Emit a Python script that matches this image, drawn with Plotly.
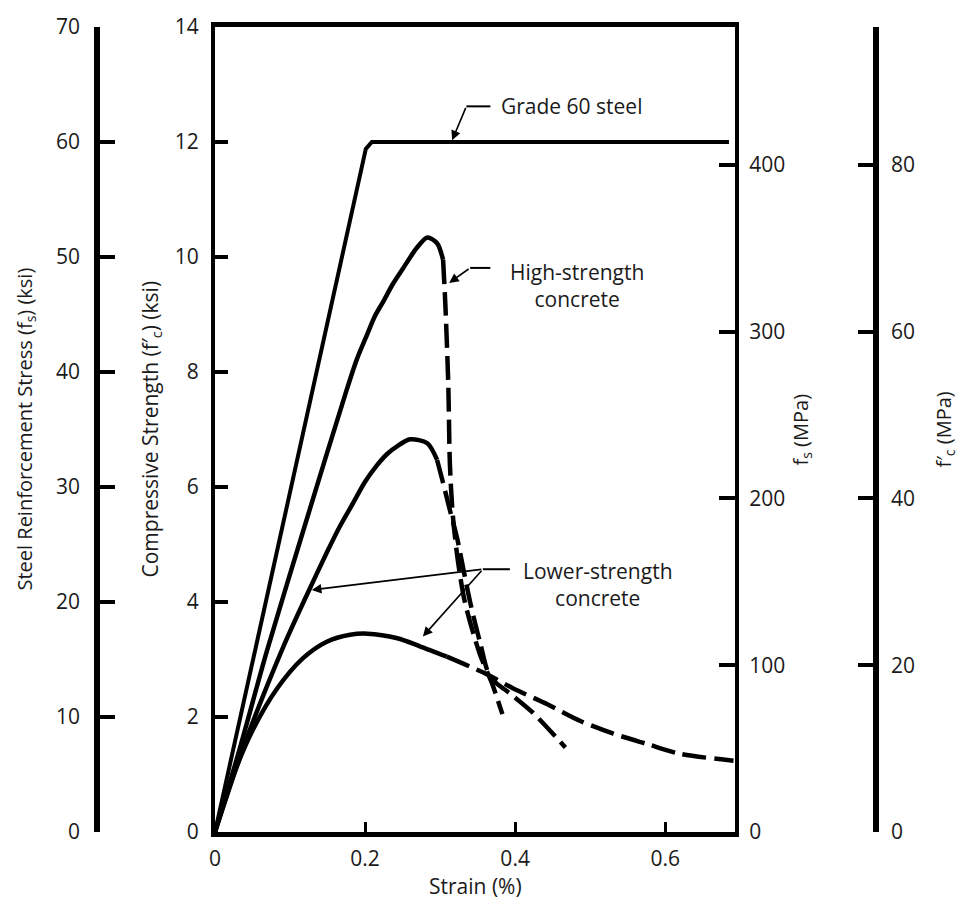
import plotly.graph_objects as go

# ---------------- data ----------------
# Grade 60 steel (strain %, stress ksi on steel axis)
steel_x = [0.0, 0.196, 0.201, 0.209, 0.685]
steel_y = [0.0, 57.9, 59.4, 60.0, 60.0]

# High-strength concrete (strain %, ksi)
hsc_solid_x = [0.0, 0.033, 0.069, 0.123, 0.176, 0.189, 0.203, 0.213, 0.224, 0.237, 0.251, 0.269, 0.283, 0.296, 0.304]
hsc_solid_y = [0.0, 1.45, 3.14, 5.47, 7.71, 8.22, 8.66, 8.97, 9.22, 9.53, 9.81, 10.16, 10.34, 10.24, 9.95]
hsc_dash_x = [0.304, 0.307, 0.311, 0.313, 0.317, 0.324, 0.333, 0.353, 0.369, 0.383]
hsc_dash_y = [9.95, 9.17, 7.74, 6.41, 5.50, 4.69, 4.00, 3.09, 2.59, 2.05]

# Medium (lower) strength concrete
msc_solid_x = [0.0, 0.040, 0.091, 0.123, 0.149, 0.167, 0.184, 0.200, 0.216, 0.229, 0.243, 0.260, 0.283, 0.296]
msc_solid_y = [0.0, 1.55, 3.22, 4.14, 4.86, 5.33, 5.72, 6.09, 6.38, 6.57, 6.71, 6.83, 6.76, 6.47]
msc_dash_x = [0.296, 0.304, 0.313, 0.323, 0.331, 0.340, 0.353, 0.367, 0.393, 0.424, 0.467]
msc_dash_y = [6.47, 6.07, 5.60, 5.09, 4.57, 4.00, 3.31, 2.69, 2.41, 2.07, 1.47]

# Lower-strength concrete
lsc_solid_x = [0.0, 0.027, 0.051, 0.083, 0.117, 0.149, 0.180, 0.203, 0.243, 0.273, 0.309]
lsc_solid_y = [0.0, 1.07, 1.79, 2.50, 3.02, 3.31, 3.43, 3.45, 3.37, 3.23, 3.05]
lsc_dash_x = [0.309, 0.363, 0.397, 0.443, 0.487, 0.531, 0.576, 0.620, 0.691]
lsc_dash_y = [3.05, 2.74, 2.50, 2.22, 1.93, 1.71, 1.53, 1.36, 1.24]

# axes / ticks
x_ticks = [0, 0.2, 0.4, 0.6]
x_ticklabels = ["0", "0.2", "0.4", "0.6"]
fc_ksi_ticks = [0, 2, 4, 6, 8, 10, 12, 14]
fs_ksi_ticks = [0, 10, 20, 30, 40, 50, 60, 70]
fs_mpa_ticks = [0, 100, 200, 300, 400]
fc_mpa_ticks = [0, 20, 40, 60, 80]
KSI_TO_MPA = 6.895
FC_MAX_KSI = 14
FS_MAX_KSI = 70

FONT = "Open Sans"
TXT = "#1a1a1a"

fig = go.Figure()

solid = dict(color="black", width=4.5)
dashed = dict(color="black", width=4.5, dash="24px,8px")

fig.add_trace(go.Scatter(x=steel_x, y=steel_y, yaxis="y2", mode="lines",
                         line=dict(color="black", width=4), showlegend=False, hoverinfo="skip"))
for xs, ys, ln in [
    (hsc_solid_x, hsc_solid_y, solid), (hsc_dash_x, hsc_dash_y, dashed),
    (msc_solid_x, msc_solid_y, solid), (msc_dash_x, msc_dash_y, dashed),
    (lsc_solid_x, lsc_solid_y, solid), (lsc_dash_x, lsc_dash_y, dashed),
]:
    fig.add_trace(go.Scatter(x=xs, y=ys, mode="lines", line=dict(shape="spline", smoothing=0.8, **ln),
                             showlegend=False, hoverinfo="skip"))

# invisible traces so the MPa axes are drawn
fig.add_trace(go.Scatter(x=[0], y=[0], yaxis="y3", mode="markers", marker=dict(opacity=0),
                         showlegend=False, hoverinfo="skip"))
fig.add_trace(go.Scatter(x=[0], y=[0], yaxis="y4", mode="markers", marker=dict(opacity=0),
                         showlegend=False, hoverinfo="skip"))

W, H = 964, 902
ML, MR, MT, MB = 97, 88, 20, 70
PW = W - ML - MR
def px2paper(px):
    return (px - ML) / PW

tickfont = dict(family=FONT, size=21, color=TXT)

fig.update_layout(
    width=W, height=H, margin=dict(l=ML, r=MR, t=MT, b=MB),
    paper_bgcolor="white", plot_bgcolor="white",
    xaxis=dict(domain=[px2paper(215), px2paper(735)], range=[0, 0.693],
               tickvals=x_ticks, ticktext=x_ticklabels, ticks="inside", ticklen=10, tickwidth=2.5,
               tickcolor="black", showline=True, linewidth=5, linecolor="black", mirror=True,
               showgrid=False, zeroline=False, tickfont=tickfont, ticklabelstandoff=4,
               fixedrange=True),
    yaxis=dict(range=[0, FC_MAX_KSI], tickvals=fc_ksi_ticks, ticks="inside", ticklen=13, tickwidth=4,
               tickcolor="black", showline=True, linewidth=4, linecolor="black", showgrid=False,
               zeroline=False, tickfont=tickfont, ticklabelstandoff=8, anchor="x"),
    yaxis2=dict(range=[0, FS_MAX_KSI], tickvals=fs_ksi_ticks, overlaying="y", anchor="free",
                position=0, side="left", ticks="inside", ticklen=15, tickwidth=4, tickcolor="black",
                showline=True, linewidth=5.5, linecolor="black", showgrid=False, zeroline=False,
                tickfont=tickfont, ticklabelstandoff=10),
    yaxis3=dict(range=[0, FC_MAX_KSI * KSI_TO_MPA * 5], tickvals=fs_mpa_ticks, overlaying="y",
                anchor="x", side="right", ticks="inside", ticklen=16, tickwidth=3.5, tickcolor="black",
                showline=True, linewidth=4, linecolor="black", showgrid=False, zeroline=False,
                tickfont=tickfont, ticklabelstandoff=6),
    yaxis4=dict(range=[0, FC_MAX_KSI * KSI_TO_MPA], tickvals=fc_mpa_ticks, overlaying="y",
                anchor="free", position=1, side="right", ticks="inside", ticklen=15, tickwidth=4,
                tickcolor="black", showline=True, linewidth=5.5, linecolor="black", showgrid=False,
                zeroline=False, tickfont=tickfont, ticklabelstandoff=8),
)

titlefont = dict(family=FONT, size=20, color=TXT)
ann = []
ann.append(dict(text="Steel Reinforcement Stress (f<sub>s</sub>) (ksi)", xref="paper", yref="paper",
                x=px2paper(25), y=0.5, textangle=-90, showarrow=False, font=titlefont,
                xanchor="center", yanchor="middle"))
ann.append(dict(text="Compressive Strength (f′<sub>c</sub>) (ksi)", xref="paper", yref="paper",
                x=px2paper(150), y=0.5, textangle=-90, showarrow=False, font=dict(family=FONT, size=21, color=TXT),
                xanchor="center", yanchor="middle"))
ann.append(dict(text="f<sub>s</sub> (MPa)", xref="paper", yref="paper",
                x=px2paper(801), y=0.5, textangle=-90, showarrow=False, font=titlefont,
                xanchor="center", yanchor="middle"))
ann.append(dict(text="f′<sub>c</sub> (MPa)", xref="paper", yref="paper",
                x=px2paper(944), y=0.5, textangle=-90, showarrow=False, font=titlefont,
                xanchor="center", yanchor="middle"))
ann.append(dict(text="Strain (%)", xref="paper", yref="paper", x=px2paper(475), y=-(886 - 832) / 812,
                showarrow=False, font=dict(family=FONT, size=21, color=TXT), xanchor="center", yanchor="middle"))

labfont = dict(family=FONT, size=21, color=TXT)
ann.append(dict(text="Grade 60 steel", x=0.378, y=12.62, xref="x", yref="y", showarrow=False,
                font=labfont, xanchor="left", yanchor="middle"))
ann.append(dict(text="High-strength<br>concrete", x=0.482, y=9.5, xref="x", yref="y", showarrow=False,
                font=labfont, xanchor="center", yanchor="middle", align="center"))
ann.append(dict(text="Lower-strength<br>concrete", x=0.511, y=4.3, xref="x", yref="y", showarrow=False,
                font=labfont, xanchor="center", yanchor="middle", align="center"))

# leader arrows (tail -> tip)
leaders = [
    ((0.335, 12.62), (0.316, 12.03)),
    ((0.340, 9.81), (0.312, 9.55)),
    ((0.357, 4.57), (0.129, 4.21)),
    ((0.357, 4.57), (0.277, 3.40)),
]
for (tx, ty), (hx, hy) in leaders:
    ann.append(dict(x=hx, y=hy, ax=tx, ay=ty, xref="x", yref="y", axref="x", ayref="y", text="",
                    showarrow=True, arrowhead=2, arrowsize=1.2, arrowwidth=1.6, arrowcolor="black"))
fig.update_layout(annotations=ann)

# horizontal parts of the leaders
for x0, x1, yy in [(0.335, 0.367, 12.62), (0.340, 0.367, 9.81), (0.357, 0.393, 4.57)]:
    fig.add_shape(type="line", x0=x0, x1=x1, y0=yy, y1=yy, xref="x", yref="y",
                  line=dict(color="black", width=2))

fig.write_html(
    "out.html",
    config={"displayModeBar": False},
    post_script="document.body.style.margin='0';document.body.style.overflow='hidden';",
)
